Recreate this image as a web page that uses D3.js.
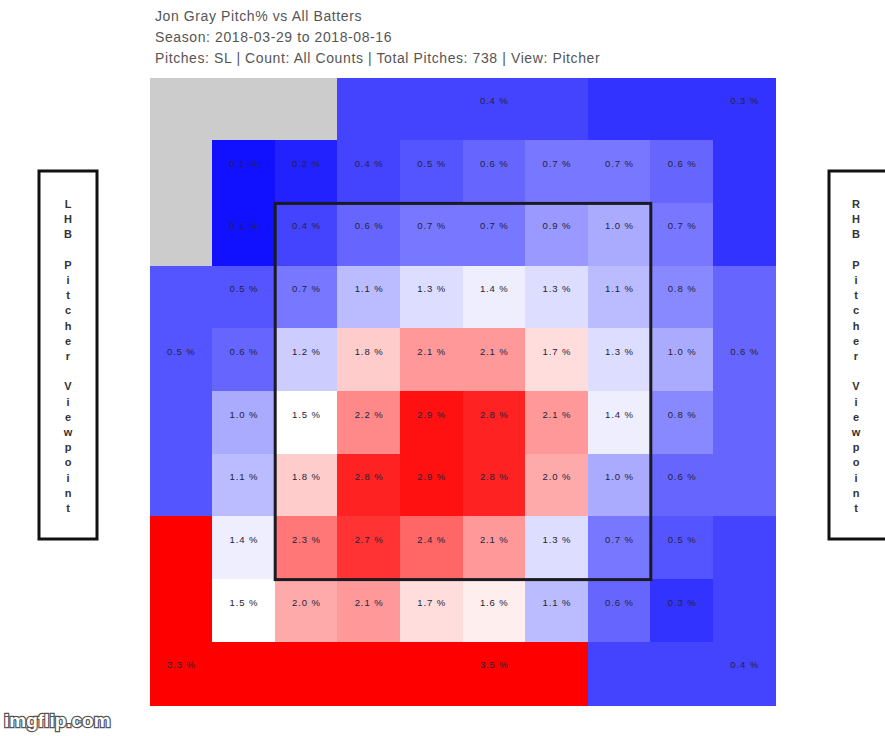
<!DOCTYPE html>
<html lang="en">
<head>
<meta charset="UTF-8">
<title>Jon Gray Pitch% vs All Batters</title>
<script src="https://d3js.org/d3.v7.min.js"></script>
<style>
  body { margin: 0; background: #fff; }
  svg { display: block; font-family: "Liberation Sans", Arial, sans-serif; }
  .title { fill: #555; font-size: 14px; letter-spacing: 0.6px; }
  .cell-label { fill: #23233a; font-size: 9.5px; letter-spacing: 0.9px; text-anchor: middle; dominant-baseline: central; }
  .side-letter { fill: #333; font-size: 11px; font-weight: bold; text-anchor: middle; dominant-baseline: central; }
</style>
</head>
<body>
<svg id="chart" width="885" height="736"></svg>
<script>
// header lines
var titleLines = [
  "Jon Gray Pitch% vs All Batters",
  "Season: 2018-03-29 to 2018-08-16",
  "Pitches: SL | Count: All Counts | Total Pitches: 738 | View: Pitcher"
];

// inner 8x8 zone values (pitcher view, top row first)
var innerValues = [
  [0.1, 0.2, 0.4, 0.5, 0.6, 0.7, 0.7, 0.6],
  [0.1, 0.4, 0.6, 0.7, 0.7, 0.9, 1.0, 0.7],
  [0.5, 0.7, 1.1, 1.3, 1.4, 1.3, 1.1, 0.8],
  [0.6, 1.2, 1.8, 2.1, 2.1, 1.7, 1.3, 1.0],
  [1.0, 1.5, 2.2, 2.9, 2.8, 2.1, 1.4, 0.8],
  [1.1, 1.8, 2.8, 2.9, 2.8, 2.0, 1.0, 0.6],
  [1.4, 2.3, 2.7, 2.4, 2.1, 1.3, 0.7, 0.5],
  [1.5, 2.0, 2.1, 1.7, 1.6, 1.1, 0.6, 0.3]
];

// outer zones
var outerZones  = ["a", "b", "c", "d", "e", "f", "g", "h"];
var outerValues = [null, 0.4, 0.3, 0.5, 0.6, 3.3, 3.5, 0.4];
// which cell of each outer zone carries its label [col, row]
var outerLabelCells = [null, [5, 0], [9, 0], [0, 4], [9, 4], [0, 9], [5, 9], [9, 9]];

// 10x10 layout: outer zone letter, or "." for the inner grid
var layout = [
  "aaabbbbccc",
  "a........c",
  "a........c",
  "d........e",
  "d........e",
  "d........e",
  "d........e",
  "f........h",
  "f........h",
  "fffgggghhh"
];

var sideLabels = ["LHB Pitcher Viewpoint", "RHB Pitcher Viewpoint"];

var svg = d3.select("#chart");

svg.selectAll(".title")
  .data(titleLines)
  .enter()
  .append("text")
  .attr("class", "title")
  .attr("x", 155)
  .attr("y", function (d, i) { return 21 + i * 21; })
  .text(function (d) { return d; });

var idx = d3.range(10);
var x = d3.scaleBand().domain(idx).range([150, 776]);
var y = d3.scaleBand().domain(idx).range([78, 705]);

var color = d3.scaleLinear()
  .domain([0, 1.5, 3])
  .range(["#0000ff", "#ffffff", "#ff0000"])
  .clamp(true);

// build cell list
var cells = [];
layout.forEach(function (row, r) {
  row.split("").forEach(function (ch, c) {
    if (ch === ".") {
      cells.push({ col: c, row: r, value: innerValues[r - 1][c - 1], label: true });
    } else {
      var z = outerZones.indexOf(ch);
      var lc = outerLabelCells[z];
      cells.push({
        col: c, row: r, value: outerValues[z],
        label: lc !== null && lc[0] === c && lc[1] === r
      });
    }
  });
});

var grid = svg.append("g");

grid.selectAll("rect")
  .data(cells)
  .enter()
  .append("rect")
  .attr("x", function (d) { return Math.floor(x(d.col)); })
  .attr("y", function (d) { return Math.floor(y(d.row)); })
  .attr("width", function (d) { return Math.ceil(x(d.col) + x.bandwidth()) - Math.floor(x(d.col)); })
  .attr("height", function (d) { return Math.ceil(y(d.row) + y.bandwidth()) - Math.floor(y(d.row)); })
  .attr("shape-rendering", "crispEdges")
  .style("fill", function (d) { return d.value === null ? "#cccccc" : color(d.value); });

grid.selectAll("text")
  .data(cells.filter(function (d) { return d.label && d.value !== null; }))
  .enter()
  .append("text")
  .attr("class", "cell-label")
  .attr("x", function (d) { return x(d.col) + x.bandwidth() / 2; })
  .attr("y", function (d) { return y(d.row) + y.bandwidth() * 0.36; })
  .text(function (d) { return d.value.toFixed(1) + " %"; });

// strike zone
svg.append("rect")
  .attr("x", x(2))
  .attr("y", y(2))
  .attr("width", x(8) - x(2))
  .attr("height", y(8) - y(2))
  .style("fill", "none")
  .style("stroke", "#1a1a22")
  .style("stroke-width", 3);

// side boxes
var boxes = [{ x: 39, cx: 68 }, { x: 829, cx: 856 }];
boxes.forEach(function (b, i) {
  svg.append("rect")
    .attr("x", b.x)
    .attr("y", 171)
    .attr("width", 58)
    .attr("height", 368)
    .style("fill", "#fff")
    .style("stroke", "#111")
    .style("stroke-width", 3);
  svg.selectAll(".side-" + i)
    .data(sideLabels[i].split(""))
    .enter()
    .append("text")
    .attr("class", "side-letter side-" + i)
    .attr("x", b.cx)
    .attr("y", function (d, k) { return 204 + k * 15.2; })
    .text(function (d) { return d; });
});

// watermark
svg.append("text")
  .attr("x", 4)
  .attr("y", 727)
  .style("font-size", "19px")
  .style("font-weight", "bold")
  .style("fill", "#fff")
  .style("stroke", "#555")
  .style("stroke-width", 2.5)
  .style("paint-order", "stroke")
  .text("imgflip.com");
</script>
</body>
</html>
